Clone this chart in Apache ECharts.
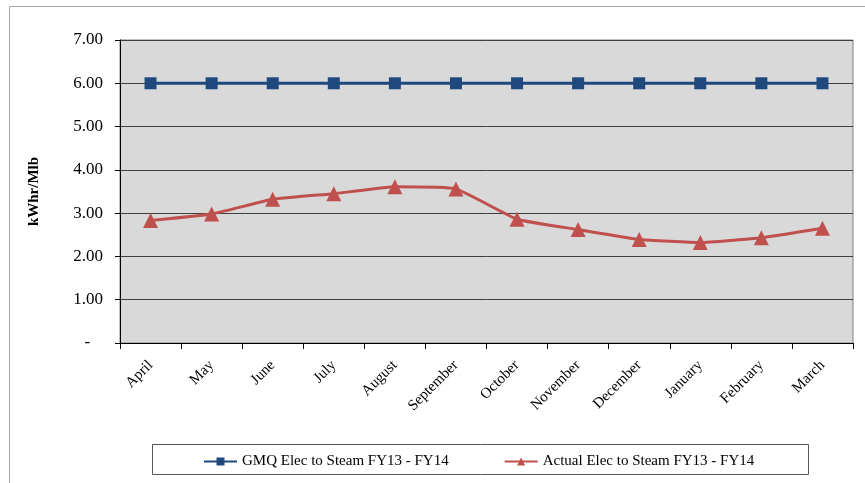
<!DOCTYPE html>
<html>
<head>
<meta charset="utf-8">
<script src="https://cdn.jsdelivr.net/npm/echarts@6/dist/echarts.min.js"></script>
<style>
  html, body { margin: 0; padding: 0; background: #ffffff; }
  #chart { width: 865px; height: 483px; }
</style>
</head>
<body>
<div id="chart"></div>
<script>
// Months of the fiscal year, April through March
const months = ['April', 'May', 'June', 'July', 'August', 'September',
                'October', 'November', 'December', 'January', 'February', 'March'];

// Electricity-to-steam ratio, kWhr per Mlb
const gmqValues = [6.00, 6.00, 6.00, 6.00, 6.00, 6.00, 6.00, 6.00, 6.00, 6.00, 6.00, 6.00];
const actualValues = [2.83, 2.98, 3.32, 3.45, 3.61, 3.56, 2.86, 2.62, 2.39, 2.32, 2.43, 2.65];

const seriesNames = ['GMQ Elec to Steam FY13 - FY14', 'Actual Elec to Steam FY13 - FY14'];
const yAxisTitle = 'kWhr/Mlb';

const serif = '"Liberation Serif", "Times New Roman", serif';
const blue = '#1f497d';
const red = '#c0504d';

const chart = echarts.init(document.getElementById('chart'), null, { renderer: 'canvas' });

chart.setOption({
  backgroundColor: '#ffffff',
  animation: false,
  textStyle: { fontFamily: serif },
  graphic: [
    { // outer chart frame
      type: 'rect', z: -1,
      shape: { x: 9.5, y: 6.5, width: 900, height: 500 },
      style: { fill: 'none', stroke: '#a6a6a6', lineWidth: 1 }
    },
    { // legend frame
      type: 'rect', z: 0,
      shape: { x: 152.5, y: 444.5, width: 656, height: 30 },
      style: { fill: '#ffffff', stroke: '#555555', lineWidth: 1 }
    }
  ],
  grid: {
    left: 120, top: 40, right: 12, bottom: 140,
    show: true, backgroundColor: '#d9d9d9', borderColor: '#808080', borderWidth: 1
  },
  legend: {
    data: seriesNames,
    left: 198, top: 449,
    itemWidth: 33, itemHeight: 10, itemGap: 55,
    textStyle: { fontFamily: serif, fontSize: 15, color: '#000000' },
    z: 5
  },
  xAxis: {
    type: 'category',
    data: months,
    boundaryGap: true,
    axisLine: { lineStyle: { color: '#000000', width: 1 } },
    axisTick: { show: true, length: 6, alignWithLabel: false, lineStyle: { color: '#000000' } },
    axisLabel: { rotate: 45, fontFamily: serif, fontSize: 15, color: '#000000', margin: 20, interval: 0 },
    splitLine: { show: false }
  },
  yAxis: {
    type: 'value',
    min: 0, max: 7, interval: 1,
    name: yAxisTitle,
    nameLocation: 'middle',
    nameGap: 78,
    nameTextStyle: { fontFamily: serif, fontSize: 15, fontWeight: 'bold', color: '#000000' },
    axisLine: { show: true, lineStyle: { color: '#000000', width: 1 } },
    axisTick: { show: true, length: 5, lineStyle: { color: '#000000' } },
    axisLabel: {
      fontFamily: serif, fontSize: 17, color: '#000000', margin: 17,
      formatter: v => (v === 0 ? '-   ' : v.toFixed(2))
    },
    splitLine: { show: true, lineStyle: { color: '#404040', width: 1 } }
  },
  series: [
    {
      name: seriesNames[0],
      type: 'line',
      data: gmqValues,
      symbol: 'rect',
      symbolSize: 12,
      lineStyle: { color: blue, width: 3 },
      itemStyle: { color: blue },
      z: 3
    },
    {
      name: seriesNames[1],
      type: 'line',
      data: actualValues,
      smooth: 0.12,
      symbol: 'triangle',
      symbolSize: 15,
      lineStyle: { color: red, width: 3 },
      itemStyle: { color: red },
      z: 4
    }
  ]
});
</script>
</body>
</html>
